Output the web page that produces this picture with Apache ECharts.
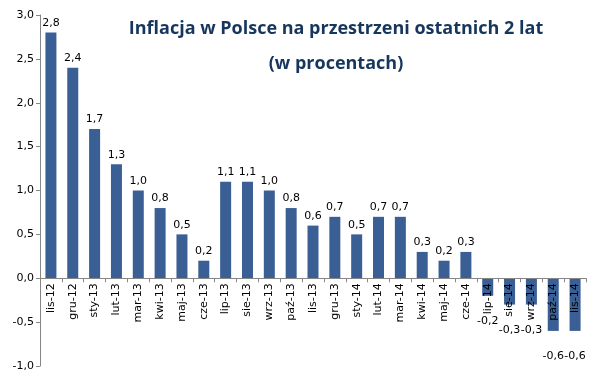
<!DOCTYPE html>
<html>
<head>
<meta charset="utf-8">
<script src="https://cdn.jsdelivr.net/npm/echarts@6/dist/echarts.min.js"></script>
<style>
 html, body { margin: 0; padding: 0; background: #fff; }
 #chart { width: 595px; height: 376px; }
</style>
</head>
<body>
<div id="chart"></div>
<script>
// miesiące (lis-12 .. lis-14)
var months = ['lis-12','gru-12','sty-13','lut-13','mar-13','kwi-13','maj-13','cze-13',
  'lip-13','sie-13','wrz-13','paź-13','lis-13','gru-13','sty-14','lut-14','mar-14',
  'kwi-14','maj-14','cze-14','lip-14','sie-14','wrz-14','paź-14','lis-14'];
// inflacja r/r w %
var inflation = [2.8, 2.4, 1.7, 1.3, 1.0, 0.8, 0.5, 0.2, 1.1, 1.1, 1.0, 0.8, 0.6,
  0.7, 0.5, 0.7, 0.7, 0.3, 0.2, 0.3, -0.2, -0.3, -0.3, -0.6, -0.6];

var yMin = -1, yMax = 3;
var gridTop = 15, gridBottom = 10, chartH = 376;

function pl(v) { return v.toFixed(1).replace('.', ','); }

// przesunięcie osi X na poziom zera
var plotH = chartH - gridTop - gridBottom;
var zeroOffset = -plotH * (0 - yMin) / (yMax - yMin);

var chart = echarts.init(document.getElementById('chart'));
var option = {
  animation: false,
  title: {
    text: 'Inflacja w Polsce na przestrzeni ostatnich 2 lat\n(w procentach)',
    left: 331, top: 6, textAlign: 'center',
    textStyle: { fontFamily: 'Open Sans', fontWeight: 'bold', fontSize: 18, lineHeight: 35, color: '#17365d' }
  },
  grid: { left: 40, right: 9, top: gridTop, bottom: gridBottom, containLabel: false, outerBoundsMode: 'none' },
  xAxis: {
    type: 'category',
    data: months,
    offset: zeroOffset,
    z: 10,
    axisLine: { onZero: false, lineStyle: { color: '#868686' } },
    axisTick: { show: true, alignWithLabel: false, length: 4, lineStyle: { color: '#868686' } },
    axisLabel: {
      rotate: 90, interval: 0, margin: 5,
      fontFamily: 'DejaVu Sans', fontSize: 11, color: '#000'
    }
  },
  yAxis: {
    type: 'value', min: yMin, max: yMax, interval: 0.5,
    splitLine: { show: false },
    axisLine: { show: true, lineStyle: { color: '#868686' } },
    axisTick: { show: true, length: 4, lineStyle: { color: '#868686' } },
    axisLabel: {
      formatter: function (v) { return pl(v); },
      fontFamily: 'DejaVu Sans', fontSize: 11, color: '#000', margin: 6
    }
  },
  series: [{
    type: 'bar',
    barWidth: 11,
    itemStyle: { color: '#3a5f94' },
    data: inflation.map(function (v) {
      return v < 0
        ? { value: v, label: { position: 'bottom', distance: 20 } }
        : { value: v, label: { position: 'top' } };
    }),
    label: {
      show: true, distance: 4,
      fontFamily: 'DejaVu Sans', fontSize: 11, color: '#000',
      formatter: function (p) { return pl(p.value); }
    }
  }]
};
chart.setOption(option);
</script>
</body>
</html>
